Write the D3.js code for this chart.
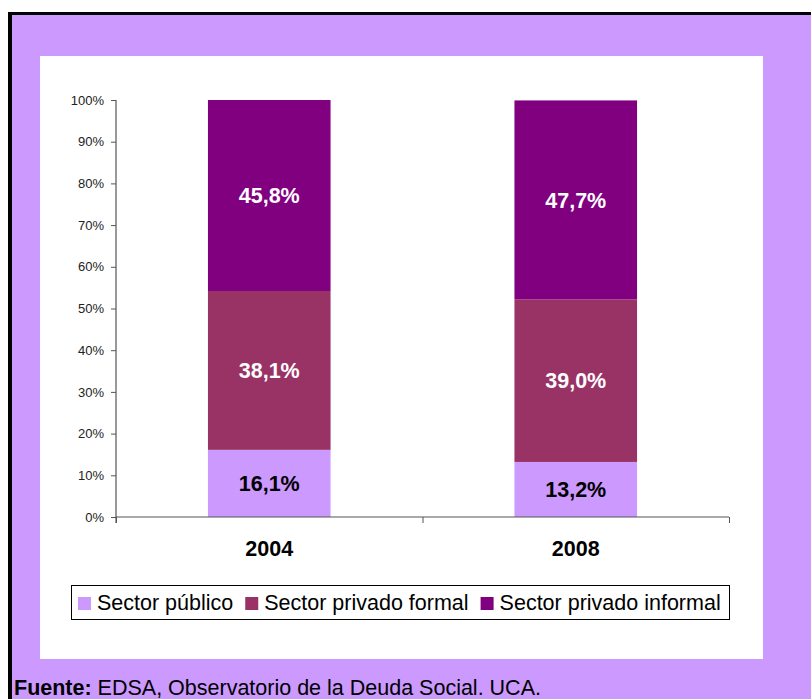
<!DOCTYPE html>
<html><head><meta charset="utf-8">
<script src="https://cdn.jsdelivr.net/npm/d3@7"></script>
<style>html,body{margin:0;padding:0;background:#fff;}svg{display:block;}</style>
</head><body>
<script>
const categories = ["2004", "2008"];
const seriesNames = ["Sector público", "Sector privado formal", "Sector privado informal"];
const sectorPublico = [16.1, 13.2];
const sectorPrivadoFormal = [38.1, 39.0];
const sectorPrivadoInformal = [45.8, 47.7];
const labelsPublico = ["16,1%", "13,2%"];
const labelsFormal = ["38,1%", "39,0%"];
const labelsInformal = ["45,8%", "47,7%"];
const yTicks = [0, 10, 20, 30, 40, 50, 60, 70, 80, 90, 100];
const colors = ["#CC99FF", "#993366", "#800080"];
const labelColors = ["#000", "#fff", "#fff"];
const footerBold = "Fuente:";
const footerText = " EDSA, Observatorio de la Deuda Social. UCA.";

const W = 811, H = 699;
const svg = d3.select("body").append("svg").attr("width", W).attr("height", H);
const font = "'Liberation Sans', Arial, sans-serif";

// background frame
svg.append("rect").attr("x", 12).attr("y", 15).attr("width", W - 12).attr("height", H - 15).attr("fill", "#CC99FF");
svg.append("rect").attr("x", 8).attr("y", 12).attr("width", W - 8).attr("height", 3).attr("fill", "#000");
svg.append("rect").attr("x", 8).attr("y", 12).attr("width", 4).attr("height", H - 12).attr("fill", "#000");
svg.append("rect").attr("x", 40).attr("y", 56).attr("width", 723).attr("height", 603).attr("fill", "#fff");

const x = d3.scaleBand().domain(categories).range([116, 729]).paddingInner(0.6).paddingOuter(0.3);
const y = d3.scaleLinear().domain([0, 100]).range([517, 100]);

const rows = categories.map((c, i) => ({cat: c, pub: sectorPublico[i], formal: sectorPrivadoFormal[i], informal: sectorPrivadoInformal[i]}));
const stack = d3.stack().keys(["pub", "formal", "informal"]);
const stacked = stack(rows);
const labelSets = [labelsPublico, labelsFormal, labelsInformal];

stacked.forEach((layer, li) => {
  const g = svg.append("g");
  g.selectAll("rect").data(layer).join("rect")
    .attr("x", d => x(d.data.cat))
    .attr("width", x.bandwidth())
    .attr("y", d => y(Math.min(d[1], 100)))
    .attr("height", d => y(d[0]) - y(Math.min(d[1], 100)))
    .attr("fill", colors[li]);
  g.selectAll("text").data(layer).join("text")
    .attr("x", d => x(d.data.cat) + x.bandwidth() / 2)
    .attr("y", d => y((d[0] + Math.min(d[1], 100)) / 2))
    .attr("dy", "0.36em")
    .attr("text-anchor", "middle")
    .attr("font-family", font).attr("font-weight", "bold").attr("font-size", 21.5)
    .attr("fill", labelColors[li])
    .text((d, i) => labelSets[li][i]);
});

// Y axis
const yAxis = d3.axisLeft(y).tickValues(yTicks).tickFormat(d => d + "%").tickSize(5).tickPadding(7);
const gy = svg.append("g").attr("transform", "translate(116,0)").call(yAxis);
gy.select(".domain").remove();
gy.selectAll(".tick line").attr("stroke", "#555");
gy.selectAll(".tick text").attr("font-family", font).attr("font-size", 13).attr("fill", "#222");
svg.append("line").attr("x1", 116).attr("x2", 116).attr("y1", y(100)).attr("y2", y(0) + 6).attr("stroke", "#555").attr("stroke-width", 1.2);

// X axis
const xb = d3.scaleLinear().domain([0, 2]).range([116, 729]);
const xAxis = d3.axisBottom(xb).tickValues([0, 1, 2]).tickSize(6).tickFormat("");
const gx = svg.append("g").attr("transform", `translate(0,${y(0)})`).call(xAxis);
gx.select(".domain").attr("stroke", "#555").attr("stroke-width", 1.2).attr("d", `M116,0H729`);
gx.selectAll(".tick line").attr("stroke", "#555");
svg.append("g").selectAll("text").data(categories).join("text")
  .attr("x", d => x(d) + x.bandwidth() / 2)
  .attr("y", 556)
  .attr("text-anchor", "middle")
  .attr("font-family", font).attr("font-weight", "bold").attr("font-size", 21.5)
  .attr("fill", "#000")
  .text(d => d);

// Legend
const lg = svg.append("g");
lg.append("rect").attr("x", 71.5).attr("y", 585.5).attr("width", 658).attr("height", 34).attr("fill", "#fff").attr("stroke", "#000").attr("stroke-width", 1);
let lx = 78;
seriesNames.forEach((name, i) => {
  lg.append("rect").attr("x", lx).attr("y", 597).attr("width", 13).attr("height", 13).attr("fill", colors[i]);
  const t = lg.append("text").attr("x", lx + 19).attr("y", 610).attr("font-family", font).attr("font-size", 21.5).attr("fill", "#000").text(name);
  lx += 19 + t.node().getComputedTextLength() + 12;
});

// Footer
const ft = svg.append("text").attr("x", 14).attr("y", 695).attr("font-family", font).attr("font-size", 21.5).attr("fill", "#000");
ft.append("tspan").attr("font-weight", "bold").text(footerBold);
ft.append("tspan").text(footerText);
</script>
</body></html>
